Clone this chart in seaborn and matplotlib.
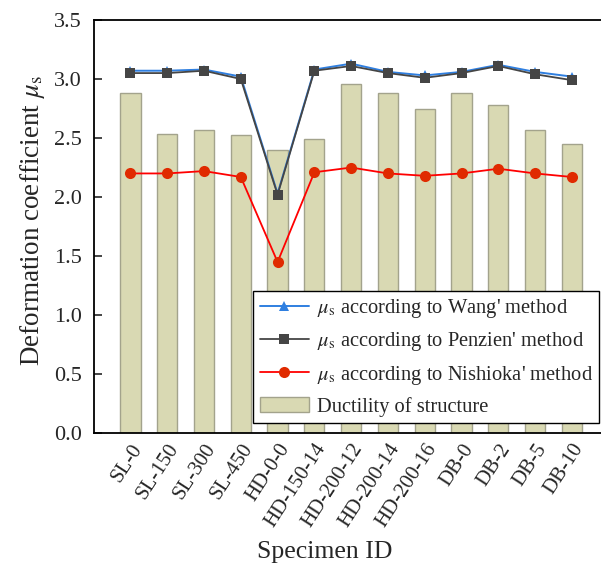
import numpy as np
import pandas as pd
import matplotlib
matplotlib.use("Agg")
import matplotlib.pyplot as plt
import seaborn as sns
from matplotlib.patches import Patch
from matplotlib.lines import Line2D

specimens = ["SL-0", "SL-150", "SL-300", "SL-450", "HD-0-0", "HD-150-14",
             "HD-200-12", "HD-200-14", "HD-200-16", "DB-0", "DB-2", "DB-5", "DB-10"]
ductility = [2.88, 2.53, 2.57, 2.525, 2.40, 2.49, 2.96, 2.88, 2.75, 2.88, 2.78, 2.57, 2.45]
wang = [3.07, 3.07, 3.08, 3.02, 2.03, 3.08, 3.13, 3.06, 3.03, 3.06, 3.12, 3.06, 3.02]
penzien = [3.05, 3.05, 3.07, 3.00, 2.02, 3.07, 3.11, 3.05, 3.01, 3.05, 3.11, 3.04, 2.99]
nishioka = [2.20, 2.20, 2.22, 2.17, 1.45, 2.21, 2.25, 2.20, 2.18, 2.20, 2.24, 2.20, 2.17]

sns.set_style("white")
plt.rcParams["font.family"] = ["Liberation Serif", "DejaVu Serif"]
plt.rcParams["mathtext.fontset"] = "stix"

fig = plt.figure(figsize=(6.01, 5.70), dpi=100)
ax = fig.add_axes([0.157, 0.240, 0.843, 0.725])

df = pd.DataFrame({"Specimen": specimens, "Ductility": ductility})
sns.barplot(data=df, x="Specimen", y="Ductility", ax=ax, color="#d9d9b3",
            saturation=1, width=0.55, edgecolor="#a3a38c", linewidth=1.0, zorder=1)

pos = np.arange(len(specimens))
sns.lineplot(x=pos, y=wang, ax=ax, color="#2f7fe0", marker="^", markersize=7.5,
             markeredgewidth=0, linewidth=1.4, zorder=3)
sns.lineplot(x=pos, y=penzien, ax=ax, color="#454545", marker="s", markersize=6.5,
             markeredgewidth=0, linewidth=1.3, zorder=4)
sns.lineplot(x=pos, y=nishioka, ax=ax, color="#ff0000", marker="o", markersize=8,
             markerfacecolor="#e02a00", markeredgewidth=0, linewidth=1.3, zorder=5)

ax.set_xlim(-0.98, 12.79)
ax.set_ylim(0, 3.5)
yt = np.arange(0, 3.51, 0.5)
ax.set_yticks(yt)
ax.set_yticklabels([f"{v:.1f}" for v in yt], fontsize=16)
ax.set_xticks(pos)
ax.set_xticklabels(specimens, rotation=57, ha="right", rotation_mode="anchor", fontsize=15)
ax.tick_params(axis="y", direction="in", length=6, width=1.2, left=True, pad=9)
ax.tick_params(axis="x", length=0, pad=5)

for side in ["left", "bottom", "top"]:
    ax.spines[side].set_visible(True)
    ax.spines[side].set_color("black")
    ax.spines[side].set_linewidth(1.3)
ax.spines["right"].set_visible(False)

ax.set_xlabel("Specimen ID", fontsize=18.5)
ax.xaxis.set_label_coords(0.455, -0.262)
ax.set_ylabel(r"Deformation coefficient $\mu_\mathrm{s}$", fontsize=19.5)
ax.yaxis.set_label_coords(-0.094, 0.515)

handles = [
    Line2D([], [], color="#2f7fe0", marker="^", markersize=7.5, markeredgewidth=0, linewidth=1.4),
    Line2D([], [], color="#454545", marker="s", markersize=6.5, markeredgewidth=0, linewidth=1.3),
    Line2D([], [], color="#ff0000", marker="o", markersize=8, markerfacecolor="#e02a00",
           markeredgewidth=0, linewidth=1.3),
    Patch(facecolor="#d9d9b3", edgecolor="#a3a38c"),
]
labels = [
    r"$\mu_\mathrm{s}$ according to Wang' method",
    r"$\mu_\mathrm{s}$ according to Penzien' method",
    r"$\mu_\mathrm{s}$ according to Nishioka' method",
    "Ductility of structure",
]
leg = ax.legend(handles, labels, loc="lower right", bbox_to_anchor=(0.997, 0.025),
                fontsize=14.8, frameon=True, fancybox=False, framealpha=1,
                edgecolor="black", handlelength=2.4, handletextpad=0.4,
                labelspacing=0.5, borderpad=0.3, borderaxespad=0)
leg.get_frame().set_linewidth(1.0)

fig.savefig("out.png", dpi=100)
